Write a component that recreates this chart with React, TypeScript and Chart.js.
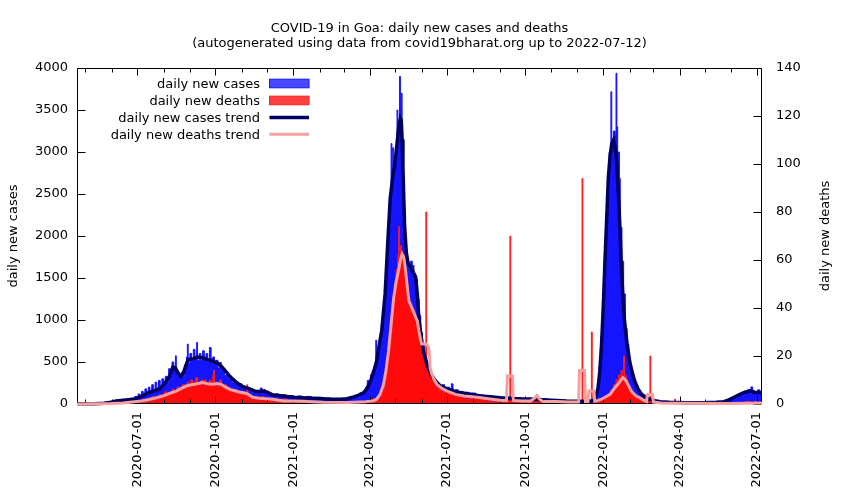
import React, { useEffect, useRef } from 'react';
import { Chart, registerables } from 'chart.js';

Chart.register(...registerables);

const FONT_FAMILY = '"DejaVu Sans", Verdana, sans-serif';
const START_DATE = '2020-04-21';
const END_DAY = 807;

const TITLE_LINES = [
  'COVID-19 in Goa: daily new cases and deaths',
  '(autogenerated using data from covid19bharat.org up to 2022-07-12)',
];
const X_TICK_LABELS = [
  '2020-07-01', '2020-10-01', '2021-01-01', '2021-04-01', '2021-07-01',
  '2021-10-01', '2022-01-01', '2022-04-01', '2022-07-01',
];
const CASES_AXIS_TITLE = 'daily new cases';
const DEATHS_AXIS_TITLE = 'daily new deaths';
const CASES_MAX = 4000;
const CASES_STEP = 500;
const DEATHS_MAX = 140;
const DEATHS_STEP = 20;

// [day offset from START_DATE, daily new cases]
const dailyCases: [number, number][] = [
  [0, 0], [12, 2], [20, 4], [28, 8], [34, 12], [38, 20], [41, 30], [44, 25], [47, 40], [50, 35],
  [53, 55], [56, 45], [59, 60], [62, 40], [64, 70], [66, 55], [68, 90], [70, 65], [72, 120], [74, 95],
  [76, 150], [78, 110], [80, 180], [82, 140], [84, 200], [86, 160], [88, 230], [90, 170], [92, 260], [94, 190],
  [96, 280], [98, 200], [100, 300], [102, 240], [104, 330], [106, 260], [108, 420], [110, 330], [112, 500], [114, 420],
  [116, 573], [117, 380], [119, 350], [121, 300], [123, 380], [125, 330], [127, 450], [129, 560], [130, 713], [131, 480],
  [133, 600], [135, 520], [137, 650], [139, 560], [141, 732], [142, 520], [144, 600], [146, 520], [148, 633], [150, 560],
  [152, 600], [154, 500], [156, 672], [158, 540], [160, 560], [162, 480], [164, 520], [166, 430], [168, 494], [170, 400],
  [172, 420], [174, 340], [176, 360], [178, 300], [180, 330], [182, 260], [184, 300], [186, 240], [188, 260], [190, 210],
  [192, 240], [194, 190], [196, 210], [198, 170], [200, 200], [202, 150], [204, 170], [206, 140], [208, 150], [210, 120],
  [212, 160], [214, 130], [216, 190], [218, 140], [220, 170], [222, 120], [224, 150], [226, 110], [228, 130], [230, 100],
  [234, 120], [238, 90], [242, 110], [246, 85], [250, 100], [255, 80], [260, 95], [265, 75], [270, 90], [276, 70],
  [282, 80], [288, 60], [294, 70], [300, 55], [306, 65], [312, 50], [318, 70], [322, 60], [326, 100], [330, 80],
  [333, 130], [336, 110], [338, 160], [340, 200], [342, 280], [344, 250], [346, 350], [348, 400], [350, 450], [352, 760],
  [353, 550], [355, 650], [357, 800], [359, 1000], [361, 1150], [363, 1400], [365, 1800], [367, 2100], [369, 2500], [370, 3100],
  [371, 2600], [372, 3050], [373, 2700], [374, 2900], [376, 3000], [377, 3500], [378, 3300], [380, 3900], [381, 3500], [382, 3700],
  [383, 3000], [384, 2600], [385, 2200], [386, 1900], [387, 1750], [389, 1650], [391, 1600], [393, 1700], [395, 1650], [397, 1550],
  [399, 1480], [401, 1250], [403, 1050], [405, 850], [407, 700], [409, 580], [411, 480], [413, 420], [415, 360], [417, 320],
  [419, 290], [421, 260], [424, 240], [427, 210], [430, 230], [433, 190], [436, 200], [439, 170], [441, 240], [443, 150],
  [446, 170], [449, 140], [452, 150], [455, 130], [458, 140], [461, 120], [465, 130], [470, 100], [475, 110], [479, 90],
  [484, 100], [489, 80], [494, 90], [499, 70], [505, 85], [511, 65], [517, 75], [524, 60], [531, 70], [539, 55],
  [547, 60], [555, 45], [563, 50], [571, 38], [579, 40], [587, 30], [594, 35], [602, 30], [606, 40], [609, 60],
  [611, 120], [613, 250], [615, 450], [617, 800], [619, 1200], [621, 1700], [623, 2100], [625, 2500], [627, 3000], [629, 3717],
  [630, 3150], [632, 3250], [634, 3200], [635, 3937], [636, 3300], [637, 3000], [639, 2687], [640, 2100], [642, 1700], [644, 1310],
  [646, 900], [648, 713], [650, 550], [652, 430], [654, 330], [656, 250], [658, 180], [661, 130], [664, 90], [668, 70],
  [673, 50], [678, 35], [686, 25], [698, 18], [718, 15], [738, 15], [750, 18], [758, 25], [763, 35], [768, 55],
  [773, 75], [778, 100], [782, 130], [786, 150], [790, 170], [794, 203], [796, 150], [799, 140], [802, 170], [804, 150],
  [807, 150],
];

// [day offset from START_DATE, daily new deaths]
const dailyDeaths: [number, number][] = [
  [0, 0], [55, 0], [58, 1], [62, 0], [66, 1], [70, 0], [73, 1], [76, 2], [79, 1], [82, 2],
  [85, 1], [88, 3], [91, 2], [94, 3], [97, 4], [100, 3], [103, 5], [106, 4], [109, 5], [112, 6],
  [115, 5], [118, 7], [121, 6], [124, 8], [127, 7], [130, 9], [132, 8], [134, 10], [136, 8], [138, 9],
  [140, 11], [142, 8], [144, 9], [146, 10], [148, 7], [150, 10], [152, 9], [154, 8], [156, 10], [158, 8],
  [160, 12], [161, 14], [162, 8], [164, 9], [166, 7], [168, 10], [170, 8], [172, 7], [174, 8], [176, 6],
  [178, 7], [180, 5], [182, 6], [184, 5], [186, 6], [188, 4], [190, 5], [192, 4], [194, 5], [196, 4],
  [198, 3], [200, 8], [201, 4], [203, 3], [206, 2], [209, 3], [212, 2], [216, 3], [220, 2], [224, 2],
  [228, 1], [232, 2], [236, 1], [242, 2], [248, 1], [256, 1], [264, 2], [270, 1], [280, 1], [290, 0],
  [300, 1], [310, 0], [320, 1], [330, 1], [340, 1], [346, 2], [350, 1], [353, 2], [356, 3], [358, 5],
  [360, 6], [362, 10], [364, 16], [366, 24], [368, 30], [370, 36], [372, 44], [374, 50], [376, 56], [378, 62],
  [379, 74], [380, 64], [381, 66], [382, 60], [384, 62], [386, 56], [388, 50], [390, 44], [392, 42], [394, 40],
  [396, 39], [398, 36], [400, 34], [402, 30], [404, 26], [406, 23], [408, 20], [410, 17], [411, 80], [412, 14],
  [415, 12], [417, 10], [420, 9], [423, 7], [426, 6], [430, 5], [434, 5], [438, 4], [442, 4], [446, 3],
  [450, 4], [454, 3], [458, 2], [462, 3], [466, 2], [470, 3], [475, 2], [479, 2], [485, 1], [491, 2],
  [497, 1], [503, 2], [510, 70], [511, 1], [517, 2], [523, 1], [529, 1], [535, 2], [541, 4], [542, 1],
  [549, 1], [559, 1], [569, 1], [579, 1], [586, 1], [595, 94], [596, 1], [600, 1], [606, 30], [607, 1],
  [613, 1], [618, 2], [622, 3], [626, 4], [629, 6], [632, 8], [635, 10], [638, 12], [641, 14], [644, 20],
  [645, 12], [647, 10], [649, 8], [651, 6], [654, 4], [657, 3], [661, 2], [665, 1], [670, 1], [675, 20],
  [676, 1], [682, 0], [704, 2], [705, 0], [778, 0], [788, 1], [792, 0], [798, 1], [801, 0], [807, 0],
];

// [day offset, 7-day trend of daily new cases]
const casesTrend: [number, number][] = [
  [0, 2], [20, 4], [32, 10], [40, 22], [46, 35], [55, 45], [66, 56], [72, 75], [78, 100], [83, 130],
  [90, 155], [97, 175], [103, 240], [109, 330], [113, 440], [116, 430], [119, 370], [122, 330], [125, 360], [128, 450],
  [131, 530], [134, 535], [138, 540], [142, 560], [146, 555], [150, 540], [155, 525], [160, 510], [165, 490], [170, 450],
  [175, 390], [180, 330], [185, 280], [190, 240], [195, 210], [200, 190], [205, 175], [210, 150], [215, 150], [220, 155],
  [225, 135], [230, 110], [237, 100], [245, 92], [255, 80], [265, 75], [278, 68], [290, 62], [300, 58], [310, 56],
  [318, 62], [326, 84], [332, 105], [338, 135], [342, 190], [346, 275], [350, 400], [353, 513], [356, 700], [359, 872],
  [363, 1310], [366, 1900], [369, 2450], [372, 2700], [375, 2900], [377, 3100], [379, 3300], [381, 3400], [382, 3380], [383, 3150],
  [384, 2800], [386, 2105], [388, 1800], [390, 1680], [392, 1640], [395, 1590], [399, 1508], [401, 1300], [403, 991], [406, 760],
  [409, 593], [413, 450], [417, 354], [422, 280], [428, 215], [436, 180], [444, 155], [454, 130], [464, 116], [475, 96],
  [487, 85], [498, 75], [519, 62], [538, 56], [559, 45], [577, 36], [593, 32], [603, 32], [608, 38], [611, 80],
  [614, 195], [616, 400], [618, 713], [620, 1150], [622, 1707], [624, 2200], [626, 2702], [628, 2950], [630, 3100], [632, 3140],
  [634, 3050], [636, 2850], [638, 2450], [639, 2250], [641, 1707], [643, 1300], [645, 991], [648, 720], [651, 513], [654, 380],
  [657, 275], [661, 180], [665, 116], [670, 80], [675, 56], [681, 40], [687, 27], [698, 20], [718, 15], [738, 15],
  [753, 20], [762, 27], [768, 50], [774, 80], [781, 116], [787, 140], [793, 155], [796, 150], [799, 135], [803, 140],
  [807, 136],
];

// [day offset, 7-day trend of daily new deaths]
const deathsTrend: [number, number][] = [
  [0, 0], [40, 0.2], [54, 0.4], [65, 0.8], [77, 1.3], [90, 2.3], [101, 3.3], [110, 4.5], [117, 5.4], [123, 6.5],
  [129, 7.5], [135, 8], [140, 8.3], [148, 8.9], [154, 8.4], [160, 8.2], [165, 8.5], [170, 8.2], [175, 7], [180, 6.1],
  [186, 5.5], [191, 5], [196, 4.7], [201, 4.2], [207, 2.8], [215, 2.4], [223, 2.2], [231, 2.0], [243, 1.3], [255, 1.2],
  [270, 1.0], [290, 0.7], [320, 0.6], [340, 0.9], [349, 1.3], [353, 2], [357, 4], [361, 8], [364, 14], [367, 22],
  [370, 33], [373, 44], [376, 51], [379, 56], [381, 60], [383, 62.5], [385, 61], [387, 56], [389, 49], [391, 43],
  [394, 40.5], [398, 37], [401, 34.5], [403, 30], [405, 26.5], [406, 25], [408, 25], [411, 25], [414, 24], [415, 22],
  [416, 15], [418, 12.5], [421, 10], [424, 8.2], [430, 6.5], [436, 5.4], [446, 4], [456, 3.3], [466, 3], [476, 2.6],
  [489, 2], [499, 1.6], [506, 1.5], [507, 11.7], [513, 11.7], [514, 1.5], [524, 1.3], [534, 1.2], [539, 2.5], [542, 3.5],
  [545, 2], [549, 1.0], [564, 1.0], [579, 0.8], [591, 0.8], [592, 14], [598, 14], [599, 1.0], [602, 1], [603, 5.4],
  [609, 5.4], [610, 1.2], [614, 1.5], [618, 2], [623, 3], [628, 4], [632, 6], [636, 7.7], [639, 9], [643, 11],
  [645, 10.5], [647, 9.6], [650, 7.5], [653, 5.4], [658, 3.5], [663, 2.6], [668, 1.5], [671, 1], [672, 4], [678, 4],
  [679, 0.8], [688, 0.4], [718, 0.3], [768, 0.2], [807, 0.4],
];

const DAY_MS = 86400000;
const dayOf = (iso: string) => Math.round((Date.parse(iso) - Date.parse(START_DATE)) / DAY_MS);
const majorDays = X_TICK_LABELS.map(dayOf);
const minorDays: number[] = [];
for (let yr = 2020; yr <= 2022; yr++) {
  for (let m = 0; m < 12; m++) {
    if (m % 3 === 0) continue;
    const d = Math.round((Date.UTC(yr, m, 1) - Date.parse(START_DATE)) / DAY_MS);
    if (d > 0 && d < END_DAY) minorDays.push(d);
  }
}

const toXY = (rows: [number, number][]) => rows.map(([x, y]) => ({ x, y }));

function drawFrame(chart: any) {
  const { ctx, chartArea: a } = chart;
  const xs = chart.scales.x;
  const ys = chart.scales.y;
  const y1s = chart.scales.y1;
  const L = a.left + 0.5;
  const R = a.right - 0.5;
  const T = a.top + 0.5;
  const B = a.bottom - 0.5;
  ctx.save();
  ctx.strokeStyle = '#000';
  ctx.lineWidth = 1;
  ctx.beginPath();
  ctx.rect(L, T, R - L, B - T);
  ys.ticks.forEach((t: any) => {
    const p = Math.round(ys.getPixelForValue(t.value)) + 0.5;
    ctx.moveTo(L, p);
    ctx.lineTo(L + 8, p);
  });
  y1s.ticks.forEach((t: any) => {
    const p = Math.round(y1s.getPixelForValue(t.value)) + 0.5;
    ctx.moveTo(R, p);
    ctx.lineTo(R - 8, p);
  });
  xs.ticks.forEach((t: any) => {
    const p = Math.round(xs.getPixelForValue(t.value)) + 0.5;
    ctx.moveTo(p, B);
    ctx.lineTo(p, B - 7);
    ctx.moveTo(p, T);
    ctx.lineTo(p, T + 7);
  });
  minorDays.forEach((d) => {
    const p = Math.round(xs.getPixelForValue(d)) + 0.5;
    ctx.moveTo(p, B);
    ctx.lineTo(p, B - 4);
    ctx.moveTo(p, T);
    ctx.lineTo(p, T + 4);
  });
  ctx.stroke();
  ctx.restore();
}

const decorPlugin = {
  id: 'decor',
  afterDatasetDraw(chart: any, args: any) {
    // the frame sits above the daily bars but below the trend lines
    if (args.index === 1) drawFrame(chart);
  },
  afterDraw(chart: any) {
    const { ctx, chartArea: a } = chart;
    ctx.save();
    ctx.fillStyle = '#000';
    ctx.font = `13px ${FONT_FAMILY}`;
    ctx.textBaseline = 'alphabetic';
    ctx.textAlign = 'center';
    const cx = (a.left + a.right) / 2;
    ctx.fillText(TITLE_LINES[0], cx, 31.5);
    ctx.fillText(TITLE_LINES[1], cx, 47);

    // right axis title, reading upward like the reference
    ctx.save();
    ctx.translate(826, (a.top + a.bottom) / 2);
    ctx.rotate(-Math.PI / 2);
    ctx.textBaseline = 'middle';
    ctx.fillText(DEATHS_AXIS_TITLE, 0, 0);
    ctx.restore();

    // legend (inside the plot, top-left)
    const ds = chart.data.datasets;
    ds.forEach((d: any, i: number) => {
      const yc = 83.5 + i * 16.95;
      ctx.textAlign = 'right';
      ctx.textBaseline = 'alphabetic';
      ctx.fillStyle = '#000';
      ctx.fillText(d.label, 260, yc + 4.5);
      const x0 = 269.5;
      const x1 = 309;
      if (d.fill) {
        ctx.globalAlpha = 0.78;
        ctx.fillStyle = d.backgroundColor;
        ctx.fillRect(x0, yc - 4.3, x1 - x0, 8.6);
        ctx.globalAlpha = 1;
        ctx.strokeStyle = d.borderColor;
        ctx.lineWidth = 1;
        ctx.strokeRect(x0, yc - 4.3, x1 - x0, 8.6);
      } else {
        ctx.strokeStyle = d.borderColor;
        ctx.lineWidth = d.borderWidth;
        ctx.beginPath();
        ctx.moveTo(x0, yc);
        ctx.lineTo(x1, yc);
        ctx.stroke();
      }
    });
    ctx.restore();
  },
};

export default function App() {
  const ref = useRef<HTMLCanvasElement | null>(null);

  useEffect(() => {
    if (!ref.current) return;
    const tickFont = { family: FONT_FAMILY, size: 13 };
    const chart = new Chart(ref.current, {
      type: 'line',
      data: {
        datasets: [
          {
            label: 'daily new cases',
            data: toXY(dailyCases),
            yAxisID: 'y',
            stepped: true,
            fill: 'origin',
            backgroundColor: '#1414ff',
            borderColor: '#1414ff',
            borderWidth: 1,
            pointRadius: 0,
            order: 3,
          },
          {
            label: 'daily new deaths',
            data: toXY(dailyDeaths),
            yAxisID: 'y1',
            stepped: true,
            fill: 'origin',
            backgroundColor: '#ff0a0a',
            borderColor: '#ff1e1e',
            borderWidth: 1,
            pointRadius: 0,
            order: 2,
          },
          {
            label: 'daily new cases trend',
            data: toXY(casesTrend),
            yAxisID: 'y',
            fill: false,
            borderColor: '#000060',
            borderWidth: 3.5,
            pointRadius: 0,
            tension: 0,
            order: 1,
            clip: { left: 0, top: 0, right: 0, bottom: 2 },
          },
          {
            label: 'daily new deaths trend',
            data: toXY(deathsTrend),
            yAxisID: 'y1',
            fill: false,
            borderColor: '#f5a0a0',
            borderWidth: 3,
            pointRadius: 0,
            tension: 0,
            order: 0,
            clip: { left: 0, top: 0, right: 0, bottom: 2 },
          },
        ],
      } as any,
      options: {
        animation: false,
        responsive: false,
        maintainAspectRatio: false,
        events: [],
        layout: { padding: { top: 68, left: 0, right: 0, bottom: 0 } },
        plugins: {
          legend: { display: false },
          tooltip: { enabled: false },
          title: { display: false },
        },
        scales: {
          x: {
            type: 'linear',
            min: 0,
            max: END_DAY,
            grid: { display: false, drawTicks: false },
            border: { display: false },
            afterBuildTicks: (s: any) => {
              s.ticks = majorDays.map((v) => ({ value: v }));
            },
            afterFit: (s: any) => {
              s.height = 96;
            },
            ticks: {
              autoSkip: false,
              minRotation: 90,
              maxRotation: 90,
              padding: 8,
              color: '#000',
              font: tickFont,
              callback: (_v: any, i: number) => X_TICK_LABELS[i],
            },
          },
          y: {
            type: 'linear',
            position: 'left',
            min: 0,
            max: CASES_MAX,
            grid: { display: false, drawTicks: false },
            border: { display: false },
            afterFit: (s: any) => {
              s.width = 77;
            },
            ticks: {
              stepSize: CASES_STEP,
              padding: 9,
              color: '#000',
              font: tickFont,
              callback: (v: any) => String(v),
            },
            title: {
              display: true,
              text: CASES_AXIS_TITLE,
              color: '#000',
              font: tickFont,
              padding: { top: 6, bottom: 0 },
            },
          },
          y1: {
            type: 'linear',
            position: 'right',
            min: 0,
            max: DEATHS_MAX,
            grid: { display: false, drawTicks: false },
            border: { display: false },
            afterFit: (s: any) => {
              s.width = 88;
            },
            ticks: {
              stepSize: DEATHS_STEP,
              padding: 14,
              color: '#000',
              font: tickFont,
              callback: (v: any) => String(v),
            },
          },
        },
      } as any,
      plugins: [decorPlugin],
    });
    return () => chart.destroy();
  }, []);

  return (
    <div style={{ position: 'absolute', left: 0, top: 0, width: 850, height: 500, background: '#fff' }}>
      <canvas ref={ref} width={850} height={500} style={{ display: 'block' }} />
    </div>
  );
}
